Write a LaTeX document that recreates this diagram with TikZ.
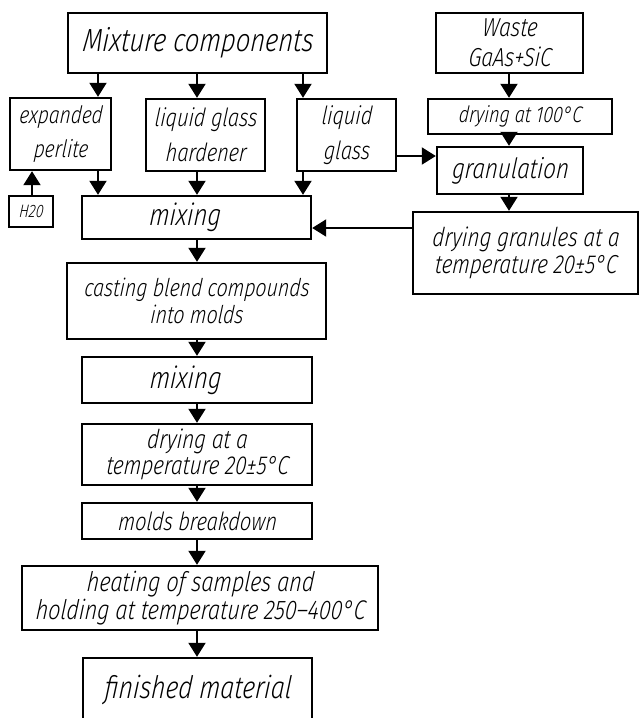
\documentclass[tikz,border=0pt]{standalone}
\usepackage{fontspec}
\newfontfamily\gost{Fira Sans Light Italic}[FakeStretch=0.8,FakeSlant=0.1]
\usetikzlibrary{arrows.meta}
\newcommand\fs[2]{\fontsize{#1}{#2}\selectfont}
\tikzset{
  box/.style={draw, line width=2.4pt, inner sep=0pt, align=center},
  arr/.style={line width=2pt, -{Triangle[length=14pt,width=17pt]}}
}
\begin{document}
\begin{tikzpicture}[x=1pt,y=-1pt]
\useasboundingbox (0,0) rectangle (640,718);
\clip (0,0) rectangle (640,718);
\fill[white] (0,0) rectangle (640,718);
% columns and rows for connectors
\coordinate (c1) at (98,0);
\coordinate (c2) at (197,0);
\coordinate (c3) at (303,0);
\coordinate (c4) at (509,0);
\coordinate (ch) at (32,0);
\coordinate (r1) at (0,156);
\coordinate (r2) at (0,228);
% boxes
\node[box, minimum width=259, minimum height=60, font={\gost\fs{32}{36}}] (mixcomp) at (197.5,43) {Mixture components};
\node[box, minimum width=147, minimum height=60, font={\gost\fs{26}{30}}] (waste) at (509.5,43) {Waste\\GaAs+SiC};
\node[box, minimum width=101, minimum height=72, font={\gost\fs{24}{34}}] (perlite) at (60.5,134) {expanded\\perlite};
\node[box, minimum width=119, minimum height=72, font={\gost\fs{25}{35}}] (hardener) at (205.5,135) {liquid glass\\hardener};
\node[box, minimum width=99, minimum height=72, font={\gost\fs{25}{35}}] (lglass) at (346.5,135) {liquid\\glass};
\node[box, minimum width=184, minimum height=35, font={\gost\fs{22.5}{25}}] (dry100) at (520,116.5) {drying at 100°C};
\node[box, minimum width=146, minimum height=47, font={\gost\fs{28}{32}}] (gran) at (510,170.5) {granulation};
\node[box, minimum width=44, minimum height=31, font={\gost\fs{18}{20}}] (h2o) at (31,211.5) {H20};
\node[box, minimum width=229, minimum height=43, font={\gost\fs{30}{32}}] (mixing1) at (196.5,217.5) {mixing\hspace*{24pt}};
\node[box, minimum width=225, minimum height=82, font={\gost\fs{26}{27}}] (drygran) at (525.5,253) {drying granules at a\\temperature 20±5°C};
\node[box, minimum width=259, minimum height=76, font={\gost\fs{24.5}{27}}] (casting) at (196.5,301) {casting blend compounds\\into molds};
\node[box, minimum width=230, minimum height=46, font={\gost\fs{30}{32}}] (mixing2) at (197,380) {mixing\hspace*{24pt}};
\node[box, minimum width=230, minimum height=61, font={\gost\fs{26}{26}}] (dry20) at (197,454.5) {drying at a\\temperature 20±5°C};
\node[box, minimum width=230, minimum height=36, font={\gost\fs{25}{27}}] (molds) at (197,521) {molds breakdown};
\node[box, minimum width=356, minimum height=64, font={\gost\fs{27}{28}}] (heating) at (200,598) {heating of samples and\\holding at temperature 250–400°C};
\node[box, minimum width=229, minimum height=64, font={\gost\fs{31}{34}}] (finished) at (197.5,690) {finished material};
% connectors
\draw[arr] (mixcomp.south -| c1) -- (perlite.north -| c1);
\draw[arr] (mixcomp.south -| c2) -- (hardener.north -| c2);
\draw[arr] (mixcomp.south -| c3) -- (lglass.north -| c3);
\draw[arr] (perlite.south -| c1) -- (mixing1.north -| c1);
\draw[arr] (hardener.south -| c2) -- (mixing1.north -| c2);
\draw[arr] (lglass.south -| c3) -- (mixing1.north -| c3);
\draw[arr] (h2o.north -| ch) -- (perlite.south -| ch);
\draw[arr] (waste.south -| c4) -- (dry100.north -| c4);
\draw[arr] (dry100.south -| c4) -- (gran.north -| c4);
\draw[arr] (gran.south -| c4) -- (drygran.north -| c4);
\draw[arr] (lglass.east |- r1) -- (gran.west |- r1);
\draw[arr] (drygran.west |- r2) -- (mixing1.east |- r2);
\draw[arr] (mixing1.south -| c2) -- (casting.north -| c2);
\draw[arr] (casting.south -| c2) -- (mixing2.north -| c2);
\draw[arr] (mixing2.south -| c2) -- (dry20.north -| c2);
\draw[arr] (dry20.south -| c2) -- (molds.north -| c2);
\draw[arr] (molds.south -| c2) -- (heating.north -| c2);
\draw[arr] (heating.south -| c2) -- (finished.north -| c2);
\end{tikzpicture}
\end{document}
